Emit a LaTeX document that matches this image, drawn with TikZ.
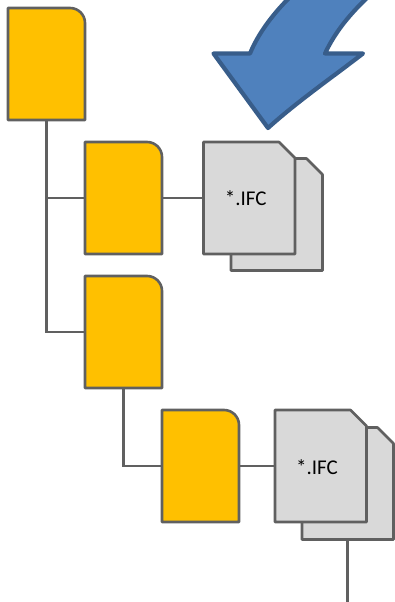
\documentclass[tikz,border=0pt]{standalone}
\usepackage{fontspec}
\setmainfont{Carlito}
\definecolor{lineg}{HTML}{606060}
\definecolor{foldfill}{HTML}{FFC000}
\definecolor{docfill}{HTML}{D9D9D9}
\definecolor{arrfill}{HTML}{4F81BD}
\definecolor{arrline}{HTML}{385D8A}
\tikzset{
  anchorbox/.style={minimum width=#1, inner sep=0pt, outer sep=0pt, draw=none},
  foldbox/.style={anchorbox=77pt, minimum height=112pt},
  docbox/.style={anchorbox=91.5pt, minimum height=112pt},
  doclabel/.style={inner sep=0pt, font=\fontsize{21pt}{24pt}\selectfont, text=black},
  shapeline/.style={draw=lineg, line width=2.6pt, line join=round},
  conn/.style={draw=lineg, line width=2.6pt},
  bigarrow/.style={draw=arrline, fill=arrfill, line width=4.2pt, line join=round}
}
\newcommand{\folderat}[1]{%
  \path[shapeline, fill=foldfill] (#1.south west) -- (#1.north west) -- ([xshift=-15pt]#1.north east)
    arc[start angle=90, end angle=0, radius=15pt] -- (#1.south east) -- cycle;}
\newcommand{\docat}[1]{%
  \path[shapeline, fill=docfill] (#1.south west) -- (#1.north west) -- ([xshift=-16pt]#1.north east)
    -- ([yshift=-16pt]#1.north east) -- (#1.south east) -- cycle;}
\begin{document}
\begin{tikzpicture}[x=1pt,y=-1pt]
\useasboundingbox (0,0) rectangle (395,602);
\node[foldbox] (f1) at (46.5,64) {};
\node[foldbox] (f2) at (123.5,198) {};
\node[foldbox] (f3) at (123.5,332) {};
\node[foldbox] (f4) at (200.5,466) {};
\node[docbox] (d1b) at (276.75,214.5) {};
\node[docbox] (d2b) at (347.75,483.5) {};
\coordinate (trunk1) at (f1.south |- f3.west);
\coordinate (branch1) at (f1.south |- f2.west);
\coordinate (branch2) at (f3.south |- f4.west);
\coordinate (tail) at (d2b.south |- 0,602);
\draw[conn] (f1.south) -- (trunk1) -- (f3.west);
\draw[conn] (branch1) -- (f2.west);
\draw[conn] (f3.south) -- (branch2) -- (f4.west);
\draw[conn] (d2b.south) -- (tail);
\folderat{f1}\folderat{f2}\folderat{f3}\folderat{f4}
\docat{d1b}\docat{d2b}
\node[docbox] (d1) at (249.25,198) {};
\node[docbox] (d2) at (320.75,466) {};
\docat{d1}\docat{d2}
\node[doclabel] (t1) at (245.8,198.5) {*.IFC};
\node[doclabel] (t2) at (317,467.5) {*.IFC};
\draw[conn] (f2.east) -- (d1.west);
\draw[conn] (f4.east) -- (d2.west);
\path[bigarrow] (268,128) -- (213.5,53.5) -- (250,53.5)
  .. controls (258,34) and (272,15) .. (290,-3)
  -- (368,-3)
  .. controls (350,14) and (335,32) .. (325,53.5)
  -- (363,53.5)
  .. controls (330,79) and (298,101) .. (268,128) -- cycle;
\end{tikzpicture}
\end{document}
